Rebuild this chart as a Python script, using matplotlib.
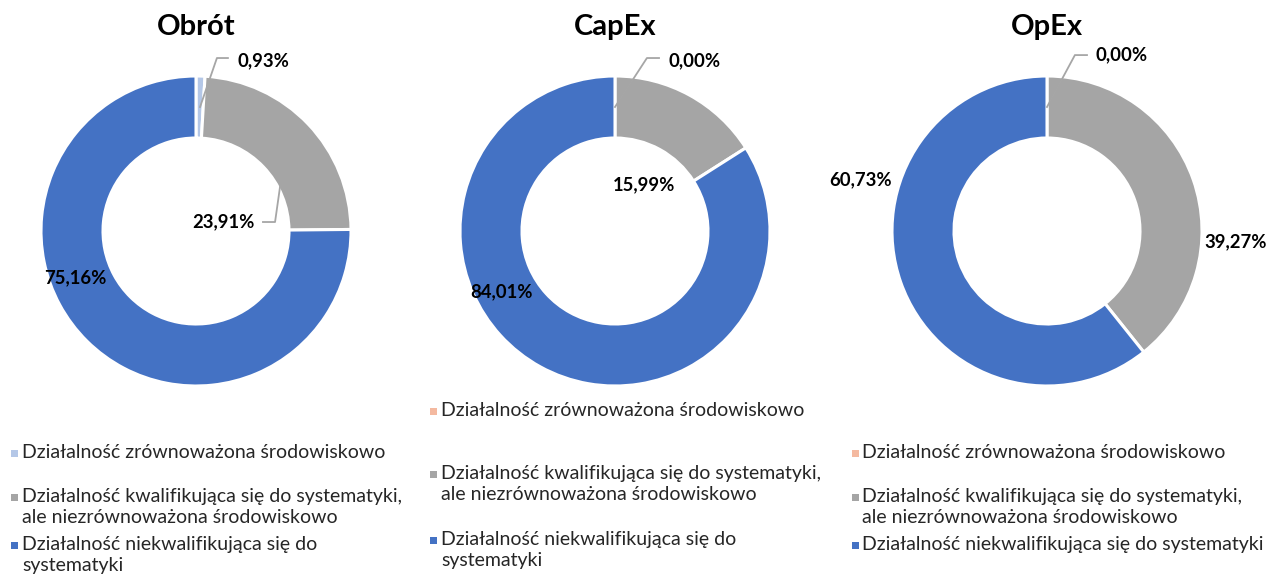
import matplotlib.pyplot as plt
from matplotlib.patches import Rectangle

plt.rcParams['font.family'] = ['Lato', 'DejaVu Sans']

titles = ['Obrót', 'CapEx', 'OpEx']
categories = ['Działalność zrównoważona środowiskowo',
              'Działalność kwalifikująca się do systematyki,\nale niezrównoważona środowiskowo',
              'Działalność niekwalifikująca się do\nsystematyki']
categories_opex = ['Działalność zrównoważona środowiskowo',
                   'Działalność kwalifikująca się do systematyki,\nale niezrównoważona środowiskowo',
                   'Działalność niekwalifikująca się do systematyki']
obrot = [0.93, 23.91, 75.16]
capex = [0.00, 15.99, 84.01]
opex = [0.00, 39.27, 60.73]

blue = '#4472C4'
gray = '#A5A5A5'
colors_list = [['#B4C7E7', gray, blue], ['#F4B9A0', gray, blue], ['#F4B9A0', gray, blue]]

W, H = 1267, 574
R = 155
fig = plt.figure(figsize=(W / 100, H / 100), dpi=100)

centers = [196, 615, 1047]
# label positions in data units (radius 1), with alignment
label_pos = [
    [(0.265, 1.097, 'left'), (0.38, 0.058, 'right'), (-0.78, -0.30, 'center')],
    [(0.342, 1.10, 'left'), (0.19, 0.30, 'center'), (-0.73, -0.39, 'center')],
    [(0.31, 1.135, 'left'), (1.22, -0.07, 'center'), (-1.2, 0.33, 'center')],
]
leaders = [
    {0: [(0.026, 0.80), (0.135, 1.116), (0.206, 1.116)],
     1: [(0.542, 0.284), (0.51, 0.058), (0.432, 0.058)]},
    {0: [(0.0, 0.80), (0.206, 1.116), (0.284, 1.116)]},
    {0: [(0.0, 0.80), (0.18, 1.135), (0.258, 1.135)]},
]

for i, vals in enumerate([obrot, capex, opex]):
    cx = centers[i]
    ax = fig.add_axes([(cx - R) / W, (H - 231 - R) / H, 2 * R / W, 2 * R / H])
    ax.pie(vals, colors=colors_list[i], startangle=90, counterclock=False, radius=1,
           wedgeprops=dict(width=0.4, edgecolor='white', linewidth=2.2))
    ax.set_xlim(-1, 1)
    ax.set_ylim(-1, 1)
    ax.axis('off')
    for j, v in enumerate(vals):
        x, y, ha = label_pos[i][j]
        ax.text(x, y, f'{v:.2f}'.replace('.', ',') + '%', ha=ha, va='center',
                fontsize=13.3, fontweight='bold', color='black', clip_on=False)
    for j, pts in leaders[i].items():
        ax.plot([p[0] for p in pts], [p[1] for p in pts], color='#A6A6A6', lw=1.3,
                clip_on=False)
    fig.text(cx / W, 1 - 27 / H, titles[i], ha='center', va='center',
             fontsize=21, fontweight='bold')

# legends
leg_x = [(11, 22), (430, 441), (852, 862)]
leg_y = [[453, 497, 545], [411, 474, 540], [453, 497, 545]]
for i in range(3):
    labels = categories_opex if i == 2 else categories
    mx, tx = leg_x[i]
    for j, lab in enumerate(labels):
        yc = leg_y[i][j]
        fig.add_artist(Rectangle((mx / W, 1 - (yc + 3.5) / H), 7 / W, 7 / H,
                                 transform=fig.transFigure, color=colors_list[i][j], lw=0))
        fig.text(tx / W, 1 - (yc - 9) / H, lab, ha='left', va='top', fontsize=14,
                 color='#262626', linespacing=1.3)

fig.savefig('out.png', dpi=100)
